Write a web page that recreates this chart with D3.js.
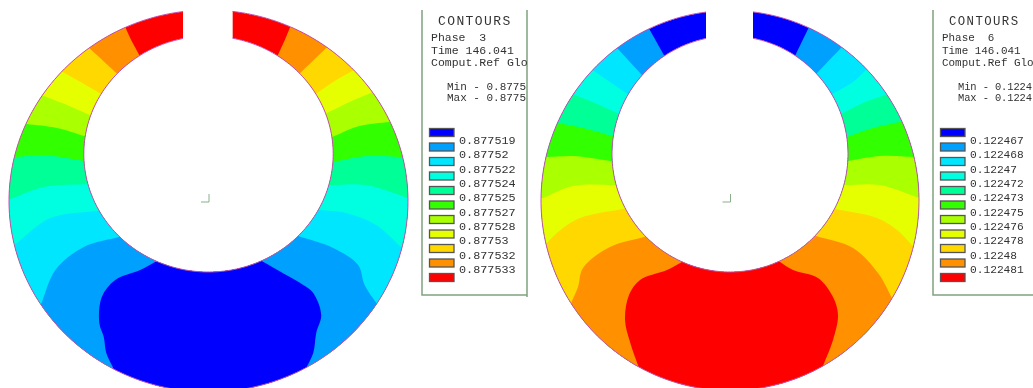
<!DOCTYPE html>
<html>
<head>
<meta charset="utf-8">
<script src="https://cdn.jsdelivr.net/npm/d3@7"></script>
<style>
  html, body { margin: 0; padding: 0; background: #fff; }
  svg { display: block; }
  text { font-family: "Liberation Mono", monospace; fill: #333; white-space: pre; }
</style>
</head>
<body>
<div id="chart"></div>
<script>
// legend colours, lowest to highest contour level
const palette = ['#0000ff', '#00a0ff', '#00e6ff', '#00ffe0', '#00ff96', '#32ff00',
  '#aaff00', '#e6ff00', '#ffd800', '#ff9000', '#ff0000'];

const legendA = ['0.877519', '0.87752', '0.877522', '0.877524', '0.877525', '0.877527',
  '0.877528', '0.87753', '0.877532', '0.877533'];
const legendB = ['0.122467', '0.122468', '0.12247', '0.122472', '0.122473', '0.122475',
  '0.122476', '0.122478', '0.12248', '0.122481'];

// the panels in the reference cut these lines off, so only the visible part is kept
const headerA = ['Phase  3', 'Time 146.041', 'Comput.Ref Glo'];
const headerB = ['Phase  6', 'Time 146.041', 'Comput.Ref Glo'];
const rangeA = ['Min - 0.8775', 'Max - 0.8775'];
const rangeB = ['Min - 0.1224', 'Max - 0.1224'];

// iso-lines in model units, top of the ring to the bottom, inner edge to outer edge
const contoursALeft = [
  [[-70, 146], [-78.5, 162], [-83, 172]],
  [[-93.5, 128], [-118.5, 151]],
  [[-109.5, 107], [-126.5, 117], [-146, 128]],
  [[-119, 85], [-142, 95], [-165, 104]],
  [[-124.5, 64], [-152, 72], [-182, 76]],
  [[-125, 39], [-165, 45], [-193, 43]],
  [[-121, 16], [-165, 13], [-198.5, 1]],
  [[-112, -11], [-158.5, -18], [-192, -43]],
  [[-90, -37], [-125, -47], [-153.5, -70], [-167, -102]],
  [[-53.5, -62], [-68.5, -70], [-93.5, -80], [-107, -97], [-109.5, -123], [-105, -137], [-102.5, -153], [-96, -167]]
];
const contoursARight = [
  [[70, 146], [76.5, 160], [81.5, 172]],
  [[93, 128], [117, 151]],
  [[109, 107], [125, 118], [144, 129]],
  [[119, 87], [141.5, 98], [162.5, 107]],
  [[124, 63], [151.5, 74], [181, 78]],
  [[125.5, 38], [158, 44], [194, 43]],
  [[120, 15], [158, 15], [200, 2]],
  [[111.5, -10], [138, -13], [168, -25], [193, -47]],
  [[90, -36], [125, -48], [150, -65], [156.5, -85], [169, -104]],
  [[55, -62], [78, -75], [95, -85], [105, -93], [113, -115], [108, -133], [105, -153], [98, -168]]
];
const contoursBLeft = [
  [[-66.7, 146], [-80.7, 171]],
  [[-89, 126], [-112, 151]],
  [[-104, 107], [-136, 129]],
  [[-113, 87], [-135, 97], [-155, 105]],
  [[-118, 64], [-147, 72], [-173, 77]],
  [[-119, 39], [-157, 44], [-183, 43]],
  [[-114, 15], [-157, 14], [-189, 1]],
  [[-107, -9], [-150, -18], [-172, -32], [-183, -43]],
  [[-86, -37], [-120, -47], [-147, -68], [-152, -87], [-158, -101]],
  [[-48, -62], [-63, -70], [-90, -80], [-101, -95], [-105, -120], [-100, -142], [-91.7, -166]]
];
const contoursBRight = [
  [[66, 146], [78, 171]],
  [[88, 128], [110, 151]],
  [[104, 107], [123, 118], [135, 129]],
  [[113, 87], [133, 97], [155, 105]],
  [[117, 63], [143, 72], [170, 78]],
  [[118, 39], [150, 44], [183, 43]],
  [[115, 15], [150, 15], [189, 2]],
  [[105, -9], [147, -18], [167, -30], [182, -45]],
  [[86, -36], [123, -48], [148, -73], [162, -98]],
  [[50, -62], [63, -70], [88, -78], [103, -97], [108, -115], [103, -140], [93, -166]]
];

const width = 1033;
const height = 388;

const svg = d3.select('#chart').append('svg')
  .attr('width', width)
  .attr('height', height);

// the reference is a slightly soft screenshot
svg.append('filter').attr('id', 'soft')
  .append('feGaussianBlur').attr('stdDeviation', 0.35);

const root = svg.append('g').attr('filter', 'url(#soft)');

// push an iso-line's two ends past the ring so the clip trims them
function extend (pts) {
  const grow = (a, b) => [b[0] + (b[0] - a[0]) * 0.4, b[1] + (b[1] - a[1]) * 0.4];
  return [grow(pts[1], pts[0])].concat(pts, [grow(pts[pts.length - 2], pts[pts.length - 1])]);
}

function drawRing (id, opts) {
  const { rx, ry, outerCy, innerRx, innerRy, innerCy, gap, cx, cy, pxRx, contoursL, contoursR, colorFor } = opts;

  const x = d3.scaleLinear().domain([-rx, rx]).range([cx - pxRx, cx + pxRx]);
  const y = d3.scaleLinear().domain([-188, 188]).range([cy + 188, cy - 188]);
  const line = d3.line().x(d => x(d[0])).y(d => y(d[1]));
  const smooth = d3.line().x(d => x(d[0])).y(d => y(d[1])).curve(d3.curveCatmullRom);

  const arc = (a, b, c, t0, t1) => d3.range(0, 241).map(i => {
    const t = t0 + (t1 - t0) * i / 240;
    return [a * Math.sin(t), c + b * Math.cos(t)];
  });

  const outer = arc(rx, ry, outerCy, Math.asin(gap[1] / rx), 2 * Math.PI + Math.asin(gap[0] / rx));
  const inner = arc(innerRx, innerRy, innerCy, Math.asin(gap[1] / innerRx), 2 * Math.PI + Math.asin(gap[0] / innerRx));
  const ringPts = outer.concat(inner.slice().reverse());

  svg.append('clipPath').attr('id', 'ring-' + id)
    .append('path').attr('d', line(ringPts) + 'Z');

  const ring = root.append('g').attr('clip-path', 'url(#ring-' + id + ')');

  ring.append('path')
    .attr('d', line(ringPts) + 'Z')
    .attr('fill', colorFor(0));

  // paint every level from the top of the ring down, each one over the last
  contoursL.forEach((c, k) => {
    const l = extend(c);
    const r = extend(contoursR[k]);
    const lo = -ry * 1.3;
    const corners = [
      [rx * 1.3, r[r.length - 1][1]], [rx * 1.3, lo], [-rx * 1.3, lo], [-rx * 1.3, l[l.length - 1][1]]
    ];
    const d = smooth(l.slice().reverse()) + 'L' + smooth(r).slice(1) + 'L' + line(corners).slice(1) + 'Z';
    ring.append('path')
      .attr('d', d)
      .attr('fill', colorFor(k + 1));
  });

  [outer, inner].forEach(pts => {
    root.append('path')
      .attr('d', line(pts))
      .attr('fill', 'none')
      .attr('stroke', '#c050b0')
      .attr('stroke-width', 1);
  });

  // small axis mark at the origin
  const ox = x(0) + 0.5;
  const oy = y(0);
  root.append('path')
    .attr('d', `M${ox},${oy - 6}V${oy + 2}H${ox - 8}`)
    .attr('fill', 'none')
    .attr('stroke', '#8aaf8a')
    .attr('stroke-width', 1);
}

function drawPanel (id, opts) {
  const { x0, x1, closed, header, range, labels, scale, rangeWidth } = opts;

  svg.append('clipPath').attr('id', 'panel-' + id)
    .append('rect')
    .attr('x', x0).attr('y', 0).attr('width', x1 - x0).attr('height', height);

  const g = root.append('g');
  const border = `M${x0},10V295H${x1}` + (closed ? 'M' + x1 + ',10V297' : '');
  g.append('path')
    .attr('d', border)
    .attr('fill', 'none')
    .attr('stroke', '#7fa37f')
    .attr('stroke-width', 1.5);

  const body = g.append('g').attr('clip-path', 'url(#panel-' + id + ')');

  body.append('text')
    .attr('x', x0 + 16).attr('y', 25)
    .attr('font-size', 13 * scale)
    .attr('letter-spacing', 1.4)
    .text('CONTOURS');

  body.selectAll('.head').data(header).enter().append('text')
    .attr('class', 'head')
    .attr('x', x0 + 9)
    .attr('y', (d, i) => 41 + i * 12.5)
    .attr('font-size', 11.5 * scale)
    .text(d => d);

  body.selectAll('.range').data(range).enter().append('text')
    .attr('class', 'range')
    .attr('x', x0 + 25)
    .attr('y', (d, i) => 90 + i * 11)
    .attr('font-size', 11 * scale)
    .attr('textLength', rangeWidth)
    .text(d => d);

  const swatchY = d3.scaleBand().domain(d3.range(palette.length)).range([128, 128 + 14.5 * palette.length]);
  const labelY = d3.scaleLinear().domain([0, labels.length - 1]).range([144, 273]);

  body.selectAll('.swatch').data(palette).enter().append('rect')
    .attr('class', 'swatch')
    .attr('x', x0 + 7.5)
    .attr('y', (d, i) => swatchY(i) + 0.5)
    .attr('width', 24.5)
    .attr('height', 8)
    .attr('fill', d => d)
    .attr('stroke', '#555')
    .attr('stroke-width', 1.3);

  body.selectAll('.level').data(labels).enter().append('text')
    .attr('class', 'level')
    .attr('x', x0 + 37)
    .attr('y', (d, i) => labelY(i))
    .attr('font-size', 11.8 * scale)
    .text(d => d);
}

drawRing('a', {
  rx: 200, ry: 191, outerCy: -1, innerRx: 125, innerRy: 118, innerCy: 46, gap: [-25.5, 24],
  cx: 208.5, cy: 200, pxRx: 199.5,
  contoursL: contoursALeft, contoursR: contoursARight,
  colorFor: k => palette[palette.length - 1 - k]
});
drawRing('b', {
  rx: 189, ry: 190, outerCy: -0.5, innerRx: 118, innerRy: 118, innerCy: 46, gap: [-24, 23],
  cx: 730, cy: 200, pxRx: 189,
  contoursL: contoursBLeft, contoursR: contoursBRight,
  colorFor: k => palette[k]
});

drawPanel('a', { x0: 422, x1: 527, closed: true, header: headerA, range: rangeA, labels: legendA, scale: 1, rangeWidth: 79 });
drawPanel('b', { x0: 933, x1: 1033, closed: false, header: headerB, range: rangeB, labels: legendB, scale: 0.95, rangeWidth: 74 });
</script>
</body>
</html>
